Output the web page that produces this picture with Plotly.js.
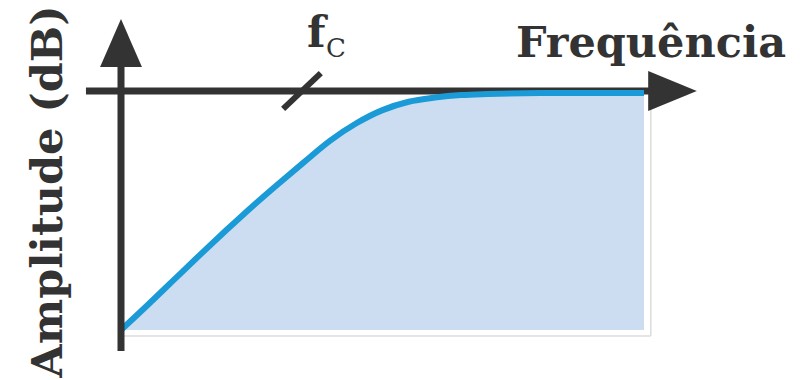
<!DOCTYPE html>
<html>
<head>
<meta charset="utf-8">
<script src="https://cdn.plot.ly/plotly-3.0.1.min.js"></script>
<style>
  html, body { margin: 0; padding: 0; background: #fff; }
  #chart { width: 802px; height: 380px; }
</style>
</head>
<body>
<div id="chart"></div>
<script>
// Curva do filtro passa-altas
const freq = [0, 5, 10, 15, 20, 25, 30, 35, 40, 45, 50, 55, 60, 65, 70, 80, 90, 100];
const amp = [-40, -35.9, -31.7, -27.5, -23.4, -19.4, -15.6, -11.9, -8.3, -5.4, -3.2, -1.8, -1.1, -0.67, -0.5, -0.33, -0.33, -0.33];
const base = freq.map(() => -40);
const fc = 34.6;

// Eixos
const xEixo = [-6.7, 101];
const yEixo = [-43.5, 4.5];
const cor = '#333333';

const traces = [
  { x: freq, y: base, mode: 'lines', line: { width: 0 }, hoverinfo: 'skip' },
  { x: freq, y: amp, mode: 'lines', fill: 'tonexty', fillcolor: '#ccdcf1',
    line: { width: 0, shape: 'spline' }, hoverinfo: 'skip' },
  { x: freq, y: amp, mode: 'lines',
    line: { color: '#1a9ad6', width: 6, shape: 'spline' }, hoverinfo: 'skip' }
];

const shapes = [
  // borda cinza clara
  { type: 'line', x0: 0.4, x1: 101.3, y0: -41, y1: -41, line: { color: '#dcdcdc', width: 1.5 }, layer: 'below' },
  { type: 'line', x0: 101.3, x1: 101.3, y0: -3, y1: -41, line: { color: '#dcdcdc', width: 1.5 }, layer: 'below' },
  // eixo horizontal
  { type: 'line', x0: xEixo[0], x1: xEixo[1], y0: 0, y1: 0, line: { color: cor, width: 7 }, layer: 'below' },
  { type: 'path', path: 'M 100.8 3.35 L 110.1 0 L 100.8 -3.35 Z', fillcolor: cor, line: { width: 0 } },
  // eixo vertical
  { type: 'line', x0: 0, x1: 0, y0: yEixo[0], y1: yEixo[1], line: { color: cor, width: 7 } },
  { type: 'path', path: 'M -4 4 L 0 12.05 L 4 4 Z', fillcolor: cor, line: { width: 0 } },
  // marca fc
  { type: 'line', x0: fc - 3.6, x1: fc + 3.6, y0: -3.0, y1: 3.0, line: { color: cor, width: 6 } }
];

const fonte = { family: 'DejaVu Serif', color: cor, size: 43, weight: 'bold' };

const annotations = [
  { x: 101.4, y: 8.2, text: 'Frequência', showarrow: false, xanchor: 'center', yanchor: 'middle', font: fonte },
  { x: -14.2, y: -16.9, text: 'Amplitude (dB)', textangle: -90, showarrow: false, xanchor: 'center', yanchor: 'middle', font: fonte },
  { x: 37.5, y: 9.9, text: 'f', showarrow: false, xanchor: 'center', yanchor: 'middle', font: fonte },
  { x: 41.1, y: 7.2, text: 'C', showarrow: false, xanchor: 'center', yanchor: 'middle',
    font: { family: 'DejaVu Serif', color: cor, size: 26 } }
];

Plotly.newPlot('chart', traces, {
  width: 802,
  height: 380,
  margin: { l: 0, r: 0, t: 0, b: 0 },
  paper_bgcolor: '#ffffff',
  plot_bgcolor: '#ffffff',
  showlegend: false,
  xaxis: { range: [-23.136, 130.21], visible: false, fixedrange: true },
  yaxis: { range: [-48.37, 15.23], visible: false, fixedrange: true },
  shapes: shapes,
  annotations: annotations
}, { staticPlot: true });
</script>
</body>
</html>
